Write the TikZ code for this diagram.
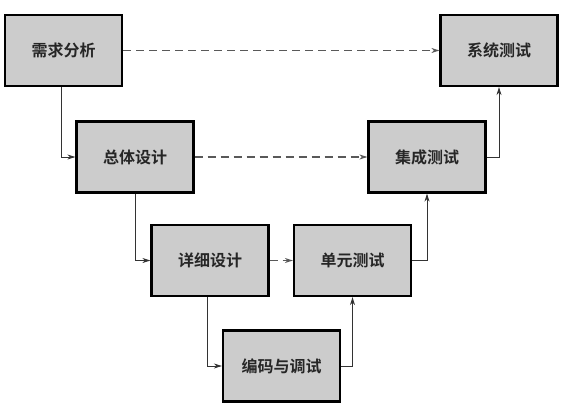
\documentclass[tikz,border=0pt]{standalone}
\usepackage{fontspec}
\newfontfamily\cjk{Noto Sans CJK SC}[BoldFont={* Bold}]
\usetikzlibrary{arrows.meta}
\begin{document}
\begin{tikzpicture}[x=1pt,y=-1pt,
  stage/.style={draw=black,line width=2.2pt,fill=black!20,minimum width=117pt,minimum height=71pt,inner sep=0pt,font=\cjk\bfseries\fontsize{16}{18}\selectfont,text=black!85},
  flow/.style={draw=black!80,line width=0.9pt,-{Stealth[length=8pt,width=5pt]}},
  verif/.style={draw=black!65,line width=1.1pt,dash pattern=on 8pt off 5pt,-{Stealth[length=8pt,width=5pt]}}]
\useasboundingbox (0,0) rectangle (564,407);
\node[stage] (req) at (63.5,50.5) {需求分析};
\node[stage] (sys) at (499,50.5) {系统测试};
\node[stage] (hld) at (135,157) {总体设计};
\node[stage] (int) at (427,157) {集成测试};
\node[stage] (dd)  at (210,260.5) {详细设计};
\node[stage] (unit) at (352.5,260.5) {单元测试};
\node[stage] (code) at (281.5,366) {编码与调试};
\draw[flow] (req.south -| 61,0) |- (hld.west);
\draw[flow] (hld.south) |- (dd.west);
\draw[flow] (dd.south -| 207,0) |- (code.west);
\draw[flow] (code.east) -| (unit.south);
\draw[flow] (unit.east) -| (int.south);
\draw[flow] (int.east) -| (sys.south);
\draw[verif] (req) -- (sys);
\draw[verif] (hld) -- (int);
\draw[verif] (dd) -- (unit);
\end{tikzpicture}
\end{document}
